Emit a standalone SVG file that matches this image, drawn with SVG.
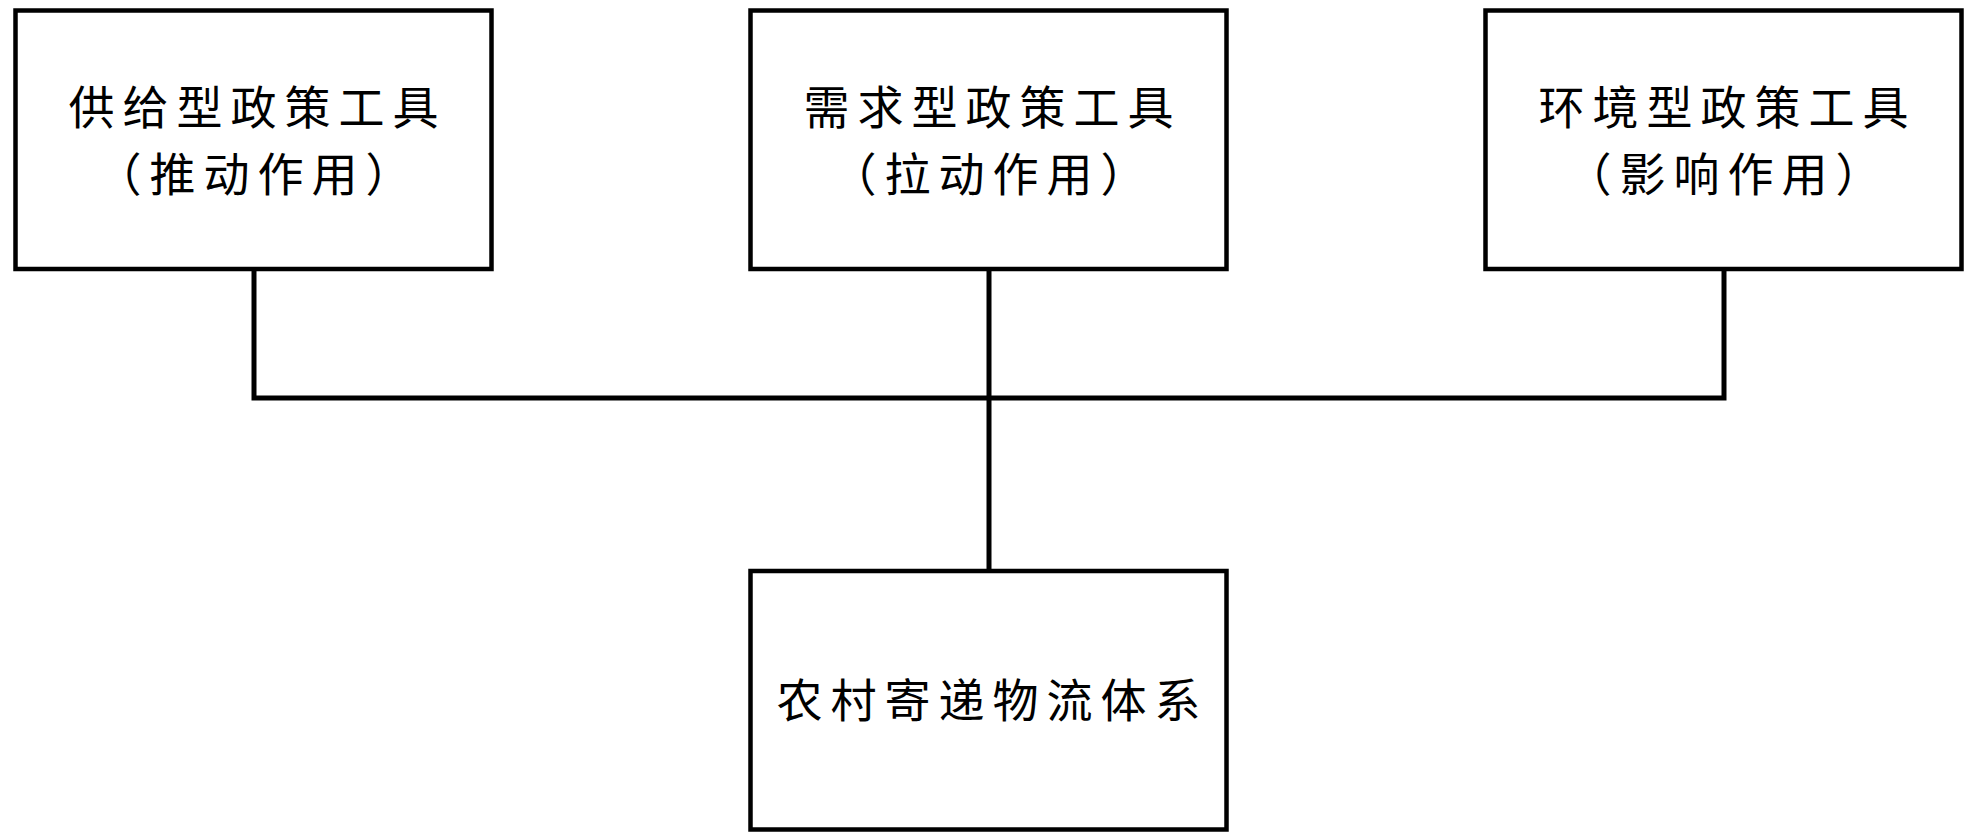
<svg xmlns="http://www.w3.org/2000/svg" width="1969" height="835" viewBox="0 0 1969 835">
<style>
.box{fill:#fff;stroke:#000;stroke-width:4.5}
.t{font-family:"Noto Sans CJK SC","Noto Sans CJK JP",sans-serif;font-size:46px;letter-spacing:8px;fill:#000;text-anchor:middle;dominant-baseline:central}
.c{fill:none;stroke:#000;stroke-width:5;stroke-linecap:square}
</style>
<rect width="1969" height="835" fill="#fff"/>
<g id="connectors">
<path class="c" d="M254 271 V398 H1724 V271"/>
<path class="c" d="M989 271 V569"/>
</g>
<g id="supply">
<rect class="box" x="15.5" y="10.5" width="476" height="258.5"/>
<text class="t" x="257.5" y="104">供给型政策工具</text>
<text class="t" x="257.5" y="171">（推动作用）</text>
</g>
<g id="demand">
<rect class="box" x="750.5" y="10.5" width="476" height="258.5"/>
<text class="t" x="992.5" y="104">需求型政策工具</text>
<text class="t" x="992.5" y="171">（拉动作用）</text>
</g>
<g id="environment">
<rect class="box" x="1485.5" y="10.5" width="476" height="258.5"/>
<text class="t" x="1727.5" y="104">环境型政策工具</text>
<text class="t" x="1727.5" y="171">（影响作用）</text>
</g>
<g id="system">
<rect class="box" x="750.5" y="571" width="476" height="258.5"/>
<text class="t" x="992.5" y="697">农村寄递物流体系</text>
</g>
</svg>
